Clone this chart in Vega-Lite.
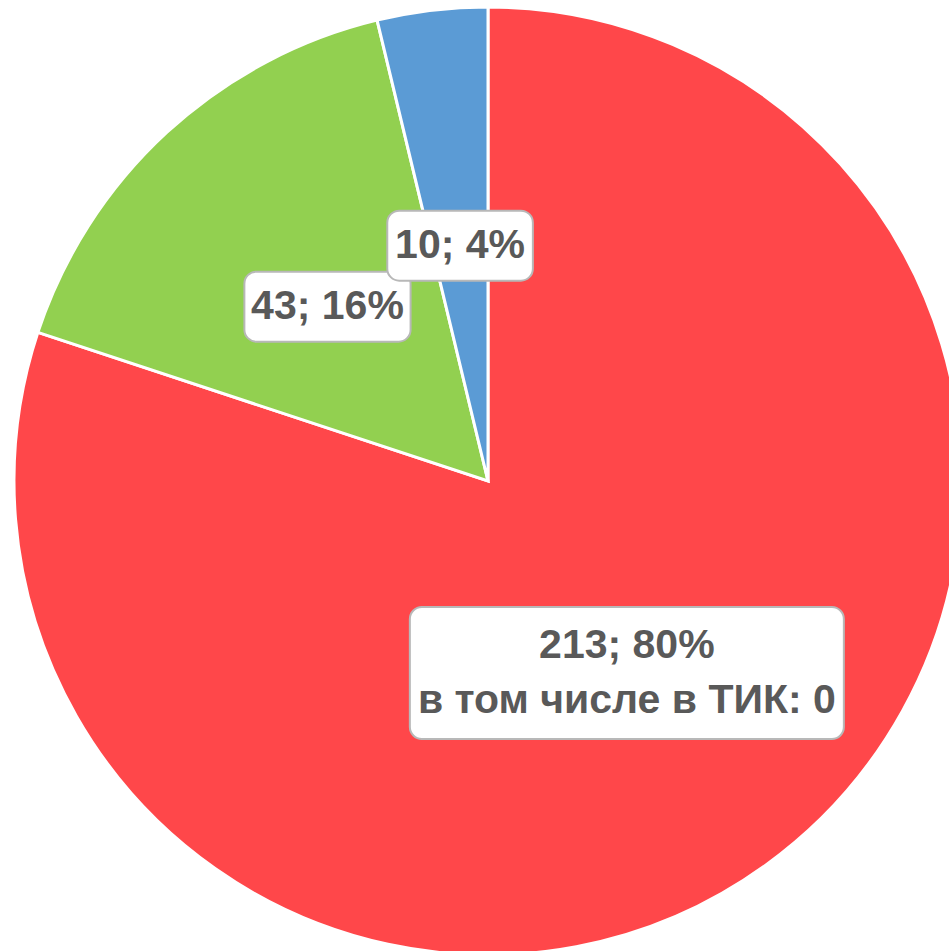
{
  "$schema": "https://vega.github.io/schema/vega-lite/v6.json",
  "autosize": "none",
  "padding": 0,
  "width": 976,
  "height": 962,
  "background": "white",
  "view": {"stroke": null},
  "data": {
    "values": [
      {"category": "Категория 1", "value": 213, "order": 1, "note": "в том числе в ТИК: 0"},
      {"category": "Категория 2", "value": 43, "order": 2, "note": ""},
      {"category": "Категория 3", "value": 10, "order": 3, "note": ""}
    ]
  },
  "transform": [
    {"joinaggregate": [{"op": "sum", "field": "value", "as": "total"}]},
    {"window": [{"op": "sum", "field": "value", "as": "cum"}], "sort": [{"field": "order"}], "frame": [null, 0]},
    {"calculate": "2*PI*(datum.cum - datum.value/2)/datum.total", "as": "mid"},
    {"calculate": "237*sin(datum.mid)", "as": "lx"},
    {"calculate": "237*cos(datum.mid)", "as": "ly"},
    {"calculate": "datum.value + '; ' + format(datum.value/datum.total, '.0%')", "as": "line1"},
    {"calculate": "datum.note ? [datum.line1, datum.note] : [datum.line1]", "as": "lines"},
    {"calculate": "datum.note ? max(length(datum.line1), length(datum.note)) : length(datum.line1)", "as": "maxLen"},
    {"calculate": "length(datum.lines)", "as": "n"},
    {"calculate": "datum.ly + (datum.n - 1)*27.5", "as": "ty"},
    {"calculate": "datum.lx - (20.6*datum.maxLen + 22)/2", "as": "bx"},
    {"calculate": "datum.lx + (20.6*datum.maxLen + 22)/2", "as": "bx2"},
    {"calculate": "datum.ly - (62*datum.n + 8)/2", "as": "by"},
    {"calculate": "datum.ly + (62*datum.n + 8)/2", "as": "by2"}
  ],
  "layer": [
    {
      "mark": {"type": "arc", "outerRadius": 474, "stroke": "white", "strokeWidth": 3},
      "encoding": {
        "theta": {"field": "value", "type": "quantitative", "stack": true},
        "order": {"field": "order", "type": "quantitative"},
        "color": {
          "field": "category",
          "type": "nominal",
          "scale": {"domain": ["Категория 1", "Категория 2", "Категория 3"], "range": ["#FF474A", "#92D050", "#5B9BD5"]},
          "legend": null
        }
      }
    },
    {
      "mark": {"type": "rect", "fill": "white", "stroke": "#B8B8B8", "strokeWidth": 2, "cornerRadius": 12},
      "encoding": {
        "x": {"field": "bx", "type": "quantitative", "scale": {"domain": [-488, 488]}, "axis": null},
        "x2": {"field": "bx2"},
        "y": {"field": "by", "type": "quantitative", "scale": {"domain": [-481, 481]}, "axis": null},
        "y2": {"field": "by2"}
      }
    },
    {
      "mark": {"type": "text", "font": "Liberation Sans", "fontWeight": "bold", "fontSize": 41, "lineHeight": 55, "align": "center", "baseline": "middle", "fill": "#595959"},
      "encoding": {
        "x": {"field": "lx", "type": "quantitative", "scale": {"domain": [-488, 488]}, "axis": null},
        "y": {"field": "ty", "type": "quantitative", "scale": {"domain": [-481, 481]}, "axis": null},
        "text": {"field": "lines"}
      }
    }
  ]
}
